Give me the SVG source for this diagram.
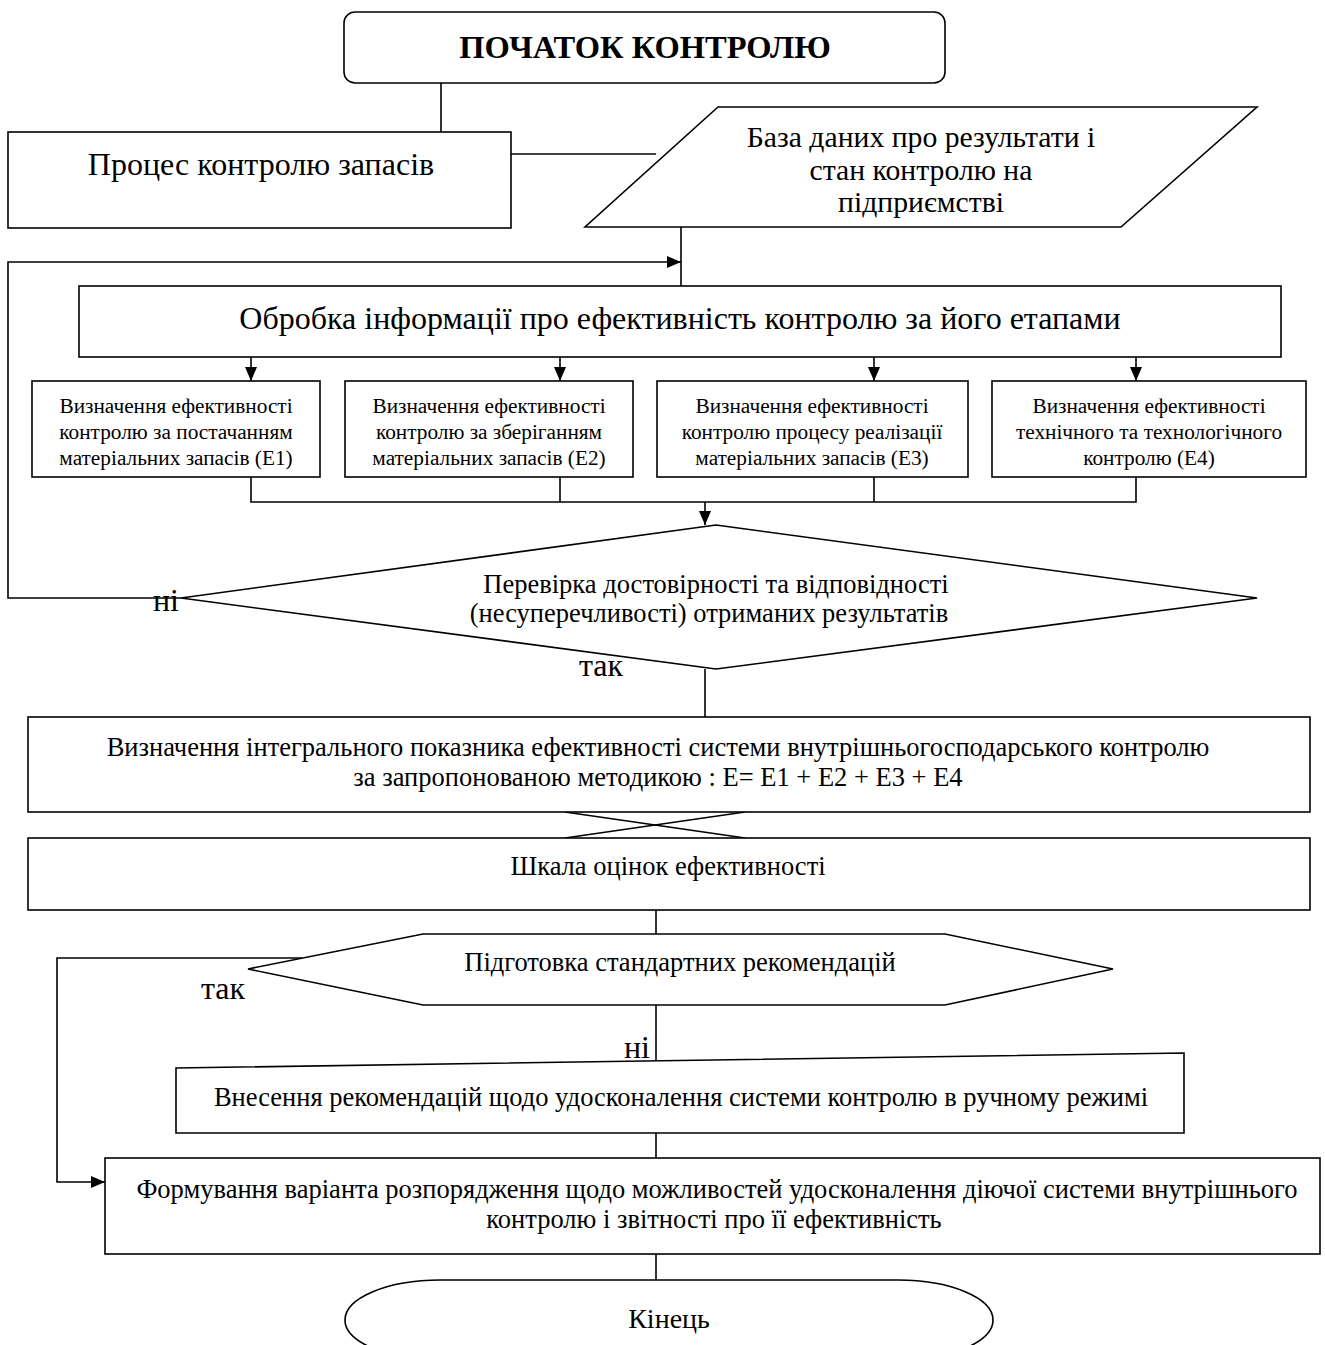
<svg xmlns="http://www.w3.org/2000/svg" width="1325" height="1345" viewBox="0 0 1325 1345">
<style>
.s{fill:#fff;stroke:#000;stroke-width:1.6}
.c{fill:none;stroke:#000;stroke-width:1.6}
text{font-family:"Liberation Serif","Times New Roman",serif;fill:#000;text-anchor:middle;dominant-baseline:central}
.b{font-size:32px}
.d{font-size:29.7px}
.m{font-size:26.5px}
.n{font-size:21.3px}
.l{font-size:32px}
</style>
<defs>
<marker id="ah" markerUnits="userSpaceOnUse" markerWidth="14" markerHeight="12" refX="14" refY="6" orient="auto">
<path d="M0,0 L14,6 L0,12 Z" fill="#000"/>
</marker>
</defs>
<rect width="1325" height="1345" fill="#fff"/>
<g id="connectors">
<line class="c" x1="441" y1="83" x2="441" y2="132"/>
<line class="c" x1="511" y1="154" x2="656" y2="154"/>
<line class="c" x1="681" y1="227" x2="681" y2="286"/>
<polyline class="c" points="181,598 8,598 8,262 681,262" marker-end="url(#ah)"/>
<line class="c" x1="251" y1="357" x2="251" y2="381" marker-end="url(#ah)"/>
<line class="c" x1="560" y1="357" x2="560" y2="381" marker-end="url(#ah)"/>
<line class="c" x1="874" y1="357" x2="874" y2="381" marker-end="url(#ah)"/>
<line class="c" x1="1136" y1="357" x2="1136" y2="381" marker-end="url(#ah)"/>
<polyline class="c" points="251,477 251,502 1136,502 1136,477"/>
<line class="c" x1="560" y1="477" x2="560" y2="502"/>
<line class="c" x1="874" y1="477" x2="874" y2="502"/>
<line class="c" x1="705" y1="502" x2="705" y2="525" marker-end="url(#ah)"/>
<line class="c" x1="705" y1="669" x2="705" y2="717"/>
<line class="c" x1="565" y1="812" x2="745" y2="838"/>
<line class="c" x1="565" y1="838" x2="745" y2="812"/>
<line class="c" x1="656" y1="910" x2="656" y2="934"/>
<line class="c" x1="656" y1="1005" x2="656" y2="1061"/>
<polyline class="c" points="302,958 57,958 57,1182 105,1182" marker-end="url(#ah)"/>
<line class="c" x1="656" y1="1133" x2="656" y2="1158"/>
<line class="c" x1="656" y1="1254" x2="656" y2="1280"/>
</g>
<g id="start">
<rect class="s" x="344" y="12" width="601" height="71" rx="11"/>
<text x="645" y="47" style="font-size:32.5px;font-weight:bold">ПОЧАТОК КОНТРОЛЮ</text>
</g>
<g id="process">
<rect class="s" x="8" y="132" width="503" height="96"/>
<text class="b" x="261" y="164">Процес контролю запасів</text>
</g>
<g id="database">
<polygon class="s" points="718,107 1257,107 1121,227 585,227"/>
<text class="d" x="921" y="137">База даних про результати і</text>
<text class="d" x="921" y="170">стан контролю на</text>
<text class="d" x="921" y="202">підприємстві</text>
</g>
<g id="processing">
<rect class="s" x="79" y="286" width="1202" height="71"/>
<text class="b" x="680" y="318">Обробка інформації про ефективність контролю за його етапами</text>
</g>
<g id="e1">
<rect class="s" x="32" y="381" width="288" height="96"/>
<text class="n" x="176" y="406">Визначення ефективності</text>
<text class="n" x="176" y="432">контролю за постачанням</text>
<text class="n" x="176" y="458">матеріальних запасів (E1)</text>
</g>
<g id="e2">
<rect class="s" x="345" y="381" width="288" height="96"/>
<text class="n" x="489" y="406">Визначення ефективності</text>
<text class="n" x="489" y="432">контролю за зберіганням</text>
<text class="n" x="489" y="458">матеріальних запасів (E2)</text>
</g>
<g id="e3">
<rect class="s" x="657" y="381" width="311" height="96"/>
<text class="n" x="812" y="406">Визначення ефективності</text>
<text class="n" x="812" y="432">контролю процесу реалізації</text>
<text class="n" x="812" y="458">матеріальних запасів (E3)</text>
</g>
<g id="e4">
<rect class="s" x="992" y="381" width="314" height="96"/>
<text class="n" x="1149" y="406">Визначення ефективності</text>
<text class="n" x="1149" y="432">технічного та технологічного</text>
<text class="n" x="1149" y="458">контролю (E4)</text>
</g>
<g id="check">
<polygon class="s" points="716,525 1257,598 716,669 181,598"/>
<text class="m" x="716" y="584">Перевірка достовірності та відповідності</text>
<text class="m" x="709" y="613">(несуперечливості) отриманих результатів</text>
</g>
<g id="integral">
<rect class="s" x="28" y="717" width="1282" height="95"/>
<text class="m" x="658" y="747">Визначення інтегрального показника ефективності системи внутрішньогосподарського контролю</text>
<text class="m" x="658" y="777">за запропонованою методикою : E= E1 + E2 + E3 + E4</text>
</g>
<g id="scale">
<rect class="s" x="28" y="838" width="1282" height="72"/>
<text class="m" x="668" y="866">Шкала оцінок ефективності</text>
</g>
<g id="standard">
<polygon class="s" points="423,934 945,934 1113,969 945,1005 423,1005 248,969"/>
<text class="m" x="680" y="962">Підготовка стандартних рекомендацій</text>
</g>
<g id="manual">
<polygon class="s" points="176,1068 1184,1053 1184,1133 176,1133"/>
<text class="m" x="681" y="1097">Внесення рекомендацій щодо удосконалення системи контролю в ручному режимі</text>
</g>
<g id="order">
<rect class="s" x="105" y="1158" width="1215" height="96"/>
<text class="m" x="717" y="1189">Формування варіанта розпорядження щодо можливостей удосконалення діючої системи внутрішнього</text>
<text class="m" x="714" y="1219">контролю і звітності про її ефективність</text>
</g>
<g id="end">
<path class="s" d="M440,1280 H898 A95,40 0 0 1 898,1360 H440 A95,40 0 0 1 440,1280 Z"/>
<text x="669" y="1318" style="font-size:28px">Кінець</text>
</g>
<g id="labels">
<text class="l" x="166" y="600">ні</text>
<text class="l" x="601" y="665">так</text>
<text class="l" x="223" y="988">так</text>
<text class="l" x="637" y="1047">ні</text>
</g>
</svg>
